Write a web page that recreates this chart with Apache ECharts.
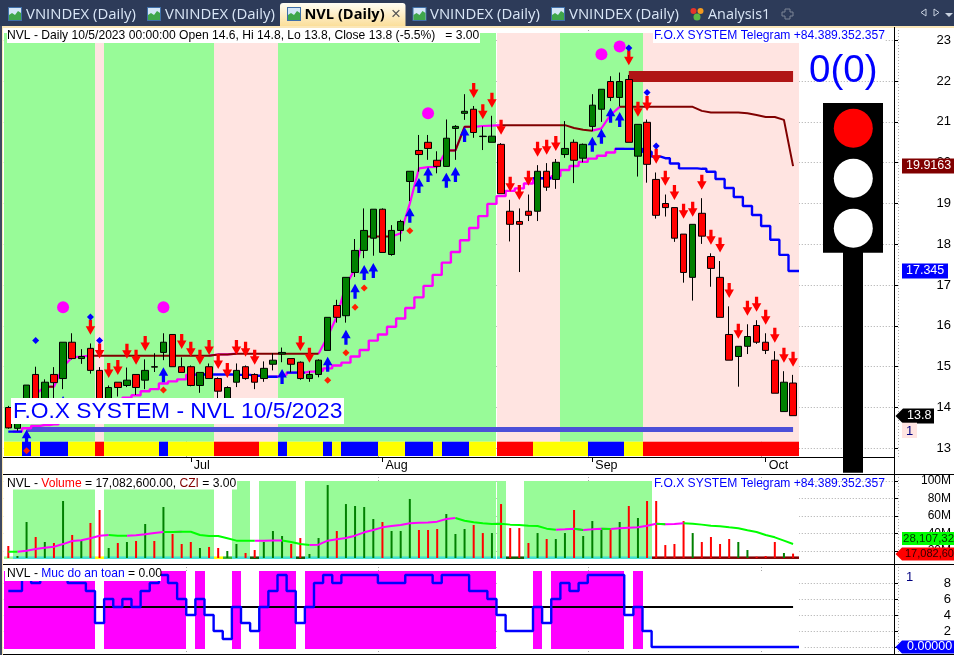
<!DOCTYPE html>
<html><head><meta charset="utf-8">
<style>html,body{margin:0;padding:0;background:#fff}#c{width:954px;height:655px}</style>
<script src="https://cdn.jsdelivr.net/npm/echarts@6/dist/echarts.min.js"></script>
</head><body><div id="c"></div>
<script>
// ---------- categories (trading days) ----------
const tradingDays = [
'6/5','6/6','6/7','6/8','6/9','6/12','6/13','6/14','6/15','6/16','6/19','6/20','6/21','6/22','6/23','6/26','6/27','6/28','6/29','6/30',
'7/3','7/4','7/5','7/6','7/7','7/10','7/11','7/12','7/13','7/14','7/17','7/18','7/19','7/20','7/21','7/24','7/25','7/26','7/27','7/28','7/31',
'8/1','8/2','8/3','8/4','8/7','8/8','8/9','8/10','8/11','8/14','8/15','8/16','8/17','8/18','8/21','8/22','8/23','8/24','8/25','8/28','8/29','8/30','8/31',
'9/5','9/6','9/7','9/8','9/11','9/12','9/13','9/14','9/15','9/18','9/19','9/20','9/21','9/22','9/25','9/26','9/27','9/28','9/29',
'10/2','10/3','10/4','10/5'];
const rightPadding = ['p1','p2','p3','p4','p5','p6','p7','p8','p9','p10','p11'];
const monthStarts = {'7/3':'Jul','8/1':'Aug','9/5':'Sep','10/2':'Oct'};

// ---------- price ----------
const open = [14.0,13.49,13.94,14.81,14.1,14.81,14.71,15.6,15.2,15.45,14.91,14.02,14.62,14.54,14.81,14.67,15.0,15.35,15.79,15.0,15.0,14.54,15.0,14.71,14.2,14.62,15.0,14.81,14.71,15.06,15.31,15.2,15.11,14.71,14.81,15.4,16.5,16.25,17.31,17.85,18.15,18.86,17.75,18.34,19.54,20.3,20.5,20.06,19.91,20.84,21.21,21.31,20.65,20.5,20.45,18.81,18.56,18.81,18.81,19.79,19.59,20.2,20.5,20.11,20.89,21.31,21.99,21.6,22.04,20.16,20.99,19.59,19.0,18.9,18.25,17.19,18.76,17.7,17.19,15.79,15.25,15.5,16.01,15.6,15.16,13.9,14.6];
const close = [13.5,13.9,14.55,14.06,14.62,14.61,15.6,15.2,15.25,14.91,13.86,14.49,14.49,14.67,14.49,14.91,14.99,15.6,15.0,14.86,14.54,14.86,14.71,14.4,14.49,14.91,14.71,14.62,14.96,15.16,15.35,15.06,14.71,14.81,15.16,16.21,16.21,17.19,17.85,18.34,18.86,17.8,18.34,18.56,19.79,20.2,20.35,19.91,20.6,20.89,21.26,20.74,20.64,20.65,19.24,18.49,18.49,18.71,19.79,19.4,20.01,20.35,20.06,20.45,21.41,21.8,21.6,21.99,20.5,20.94,19.96,18.71,18.9,18.15,17.31,18.49,18.2,17.41,16.21,15.16,15.5,15.74,15.6,15.4,14.35,14.62,13.8];
const low = [13.48,13.43,13.86,13.94,14.02,14.18,14.45,15.18,15.07,14.83,13.78,13.94,14.27,14.5,14.31,14.45,14.87,15.16,15.0,14.86,14.52,14.36,14.71,14.23,14.14,14.5,14.68,14.45,14.63,14.91,15.11,14.86,14.68,14.63,14.74,15.4,16.08,16.08,17.2,17.66,17.72,17.8,17.72,18.07,19.06,19.78,20.07,19.74,19.91,20.07,21.05,20.61,20.31,20.5,19.24,18.07,17.32,18.57,18.57,19.31,19.36,20.12,19.5,20.01,20.77,21.0,21.51,21.38,20.5,19.66,19.51,18.63,18.68,18.06,17.06,16.62,18.01,16.96,16.21,15.16,14.51,15.31,15.56,15.31,14.35,13.9,13.8];
const high = [14.04,13.98,14.55,15.0,14.69,14.99,15.6,15.82,15.43,15.57,14.99,14.54,14.62,14.98,14.81,15.18,15.33,15.82,15.79,15.23,15.03,14.86,15.08,14.74,14.52,15.08,15.03,14.84,15.13,15.33,15.47,15.2,15.13,14.89,15.18,16.21,16.64,17.19,18.13,18.88,18.86,18.88,18.47,18.6,19.79,20.68,20.68,20.28,21.06,20.92,21.68,21.39,20.89,21.15,20.48,19.09,18.88,19.22,19.94,19.99,20.09,21.02,20.57,20.47,21.68,21.8,22.12,22.21,22.15,20.94,21.06,19.76,19.22,18.9,18.25,18.49,19.13,17.78,17.59,16.48,15.5,16.04,16.14,15.82,15.38,14.89,14.8];

const upperLine = [13.7,13.8,14.0,14.33,14.51,14.51,15.0,15.23,15.25,15.27,15.27,15.27,15.27,15.27,15.27,15.27,15.27,15.27,15.27,15.27,15.27,15.27,15.27,15.3,15.3,15.32,15.32,15.32,15.32,15.32,15.32,15.32,15.32,15.32,15.32,15.74,16.23,17.0,17.4,18.19,18.19,18.19,18.19,18.27,19.0,19.86,19.89,19.9,20.3,20.3,20.88,20.88,20.9,20.91,20.92,20.92,20.92,20.92,20.92,20.92,20.92,20.92,20.85,20.81,20.785,20.84,21.17,21.37,21.37,21.37,21.37,21.37,21.37,21.37,21.37,21.37,21.27,21.23,21.23,21.23,21.23,21.21,21.17,21.12,21.12,21.05,19.9163];
const lowerLine = [13.41,13.41,13.49,13.55,13.57,13.59,13.69,13.775,13.84,13.9,13.98,14.06,14.14,14.24,14.3,14.4,14.45,14.59,14.64,14.69,14.8,14.81,14.81,14.81,14.81,14.8,14.8,14.78,14.755,14.755,14.8,14.855,14.855,14.88,14.9,14.96,15.03,15.1,15.25,15.41,15.64,15.79,15.98,16.18,16.44,16.7,16.98,17.25,17.55,17.81,18.1,18.4,18.69,18.99,19.18,19.31,19.37,19.49,19.62,19.62,19.67,19.82,19.92,20.02,20.1,20.17,20.25,20.34,20.34,20.34,20.27,20.15,20.11,19.98,19.86,19.86,19.85,19.78,19.6,19.38,19.16,18.94,18.72,18.45,18.11,17.74,17.345];
const resistanceLevel = 22.11;
const supportLevel = 13.47;

const downArrows = [[9,15.97],[10,15.385],[11,14.91],[12,14.98],[13,15.38],[14,15.23],[15,15.57],[19,15.62],[20,15.43],[21,15.23],[22,15.47],[23,15.13],[24,14.91],[25,15.47],[26,15.43],[27,15.23],[32,15.57],[33,15.28],[51,21.77],[52,21.25],[53,21.53],[54,20.87],[55,19.47],[56,19.27],[57,19.62],[58,20.33],[59,20.38],[60,20.47],[68,22.57],[69,21.31],[70,21.45],[71,20.16],[72,19.62],[73,19.27],[74,18.81],[75,18.86],[76,19.52],[77,18.17],[78,17.98],[79,16.87],[80,15.87],[81,16.43],[82,16.53],[83,16.21],[84,15.77],[85,15.28],[86,15.18]];
const upArrows = [[2,13.27],[6,14.1],[17,14.8],[30,14.76],[35,15.06],[37,15.72],[38,16.85],[39,17.31],[40,17.36],[44,18.71],[45,19.44],[46,19.71],[48,19.57],[49,19.71],[50,20.69],[64,20.45],[65,20.65],[66,21.16],[67,21.06]];
const blueDiamonds = [[3,15.64],[9,16.22],[10,15.64],[68,22.81],[70,21.72],[71,20.41]];
const redDiamonds = [[2,12.94],[17,14.43],[35,14.67],[37,15.34],[38,16.46],[39,16.93],[44,18.33]];
const magentaDots = [[6,16.455],[17,16.455],[46,21.21],[65,22.66],[67,22.85]];

// ---------- volume (millions) ----------
const volume = [25.8,14.4,53.2,36.1,30.4,29.2,77.2,38.4,32.6,52.1,66.9,23.5,29.2,30.4,31.5,50.9,31.5,70.3,39.5,28.1,30.4,23.5,24.7,23.5,20.1,28.1,17.8,21.2,30.4,42.9,37.2,28.1,34.9,16.7,34.9,95.4,42.9,73.7,71.5,70.3,56.6,53.2,42.9,42.9,79.5,44.1,44.1,45.2,62.3,39.5,45.2,49.8,40.6,40.6,73.7,46.3,46.3,29.2,40.6,33.8,33.8,40.6,66.9,37.2,54.3,46.3,44.1,53.2,71.5,57.8,77.2,77.2,26.9,28.1,54.3,40.6,30.4,36.1,28.1,33.8,30.4,21.2,13.6,14.4,30.4,17.8,17.08];
const volumeAvg = [19.3,19.3,20.5,22.4,23.9,25,28,31.5,32.3,34.6,37.6,38.4,37.6,37.6,38,39.1,40.6,41.8,41.7,42.2,42.1,38.4,37.2,37.2,34.6,31.9,31.8,31.8,31.9,32,32.1,30.4,28,26.9,27.3,31.9,33.4,34.9,37.6,41.4,44.1,47.1,48.6,49.8,51.7,52.4,52.5,53.6,56.6,57.8,54.7,52.8,51.7,50.9,51.3,50.2,49.8,49,48.6,45.6,44.4,44.8,45.6,44.1,44.8,45.6,45.2,46,46.7,47.1,49,51.3,50.5,50.9,51.7,51.3,50.2,49,48.3,47.1,46,43.7,41.8,38.4,35.7,31.9,28.1];

// ---------- Muc do an toan ----------
const safety = [7,7,9,8,9,9,9,8,8,7,3,6,5,6,5,7,8,9,8,6,4,6,4,2,1,5,3,2,5,7,9,7,3,5,8,9,8,9,9,9,9,8,8,8,9,9,9,8,9,9,9,7,7,6,4,2,2,2,5,3,6,8,7,8,9,9,9,9,4,5,2,0,0,0,0,0,0,0,0,0,0,0,0,0,0,0,0];
const safetyThreshold = 5;

// ---------- background state runs ----------
const mainBandRuns = [['g',10],['p',1],['g',12],['p',7],['g',24],['p',7],['g',9],['p',17]];
const stripRuns = [['y',2],['b',1],['y',1],['b',3],['y',3],['r',1],['y',6],['b',1],['y',5],['r',5],['y',2],['b',1],['y',4],['b',1],['y',1],['b',4],['y',3],['b',3],['y',1],['b',3],['y',3],['r',4],['y',6],['b',4],['y',2],['r',17]];
const volBandRuns = [['w',1],['g',9],['w',1],['g',12],['w',2],['g',2],['w',1],['g',4],['w',1],['g',22],['w',2],['g',14],['w',16]];
const volStripRuns = [['g',1],['c',9],['y',1],['c',12],['y',1],['m',1],['c',2],['k',1],['c',4],['k',1],['c',22],['k',2],['c',14],['d',16]];
const safeBandRuns = [['f',10],['w',1],['f',9],['w',1],['f',1],['w',3],['f',1],['w',2],['f',4],['w',1],['f',21],['w',4],['f',1],['w',1],['f',8],['w',1],['f',1],['w',17]];

// ---------- axis ticks ----------
const priceTicks = [13,14,15,16,17,18,19,20,21,22,23];
const volumeTicks = [20,40,60,80,100];
const safetyTicks = [0,2,4,6,8];

const PALETTE = {g:'#98FB98',p:'#FFE4E1',w:'#FFFFFF',y:'#FFFF00',b:'#0000FF',r:'#FF0000',c:'#40E0D0',m:'#32B432',k:'#0B5A0B',d:'#800000',f:'#FF00FF'};
const FONT = '"Liberation Sans", Arial, sans-serif';
const UI = '"Open Sans", "Noto Sans", sans-serif';

function expand(runs){const o=[];runs.forEach(r=>{for(let k=0;k<r[1];k++)o.push(r[0]);});return o;}
function part(a,up){const o=a.map(()=>null);for(let i=1;i<a.length;i++){if((a[i]>a[i-1])===up){o[i-1]=a[i-1];o[i]=a[i];}}return o;}

// A row of per-bar coloured cells, between two values of its own y axis
function cellSeries(gridIdx, runs, topV, botV, z, name){
  const states = expand(runs);
  return {type:'custom',name,xAxisIndex:gridIdx,yAxisIndex:gridIdx,z,silent:true,clip:false,animation:false,
    data:states.map((s,i)=>[i,topV,botV]),
    encode:{x:0,y:[1,2]},
    renderItem(p,api){
      const i=api.value(0),c=api.coord([i,api.value(1)]),d=api.coord([i,api.value(2)]),w=api.size([1,0])[0];
      const x0=Math.round(c[0]-w/2), x1=Math.round(c[0]+w/2)+(i===states.length-1?1:0);
      return {type:'rect',shape:{x:x0,y:c[1],width:x1-x0,height:d[1]-c[1]},style:{fill:PALETTE[states[i]]}};
    }};
}
function tagSeries(gridIdx, tags){
  return {type:'custom',xAxisIndex:gridIdx,yAxisIndex:gridIdx,z:60,silent:true,clip:false,animation:false,
    data:tags.map(t=>[0,t.v]),encode:{x:0,y:1},
    renderItem(p,api){
      const t=tags[p.dataIndex],y=Math.round(api.coord([0,t.v])[1])+(t.shift||0),h=t.h||7.5;
      const pts=t.arrow?[[895.5,y],[t.x,y-h],[t.r,y-h],[t.r,y+h],[t.x,y+h]]:[[t.x,y-h],[t.r,y-h],[t.r,y+h],[t.x,y+h]];
      return {type:'group',children:[
        {type:'polygon',shape:{points:pts},style:{fill:t.bg}},
        {type:'text',style:{x:t.tx,y,text:t.text,fill:t.fg,font:(t.fs||12.5)+'px '+FONT,textAlign:'left',textVerticalAlign:'middle'}}
      ]};
    }};
}
function scatterMarks(name,data,symbol,size,color){
  return {type:'scatter',name,xAxisIndex:0,yAxisIndex:0,z:5,silent:true,animation:false,data,symbol,symbolSize:size,itemStyle:{color,opacity:1}};
}
const UP_ARROW='path://M0,-7.5 L7,1 L2.4,1 L2.4,7.5 L-2.4,7.5 L-2.4,1 L-7,1 Z';
const DOWN_ARROW='path://M0,7.5 L7,-1 L2.4,-1 L2.4,-7.5 L-2.4,-7.5 L-2.4,-1 L-7,-1 Z';

const categories = tradingDays.concat(rightPadding);
const candle = open.map((o,i)=>[o,close[i],low[i],high[i]]);
const isMonthStart = (i)=>!!monthStarts[categories[i]];
const dotted = {show:true,interval:(i)=>isMonthStart(i),lineStyle:{color:'#A8A8A8',type:[1,2],width:1}};

function xAxisFor(g,withLabels){
  return {type:'category',gridIndex:g,data:categories,boundaryGap:true,
    axisLine:{show:false},
    axisTick:{show:withLabels,alignWithLabel:true,length:5,interval:(i)=>isMonthStart(i),lineStyle:{color:'#000',width:1}},
    axisLabel:{show:withLabels,interval:(i)=>isMonthStart(i),formatter:(v)=>monthStarts[v]||'',align:'left',margin:2,padding:[0,0,0,3],color:'#000',fontFamily:FONT,fontSize:12.5,hideOverlap:false},
    splitLine:dotted};
}
function yAxisFor(g,min,max,ticks,fmt,fontSize){
  return {type:'value',gridIndex:g,position:'right',offset:-4,min,max,scale:true,
    axisLine:{show:false},
    axisTick:{show:true,length:4,inside:false,customValues:ticks,lineStyle:{color:'#000',width:1}},
    axisLabel:{show:true,customValues:ticks,formatter:fmt,margin:57,align:'right',color:'#000',fontFamily:FONT,fontSize},
    splitLine:{show:true,lineStyle:{color:'#A8A8A8',type:[1,2],width:1}}};
}

// ---------- chrome ----------
const g=[];
function rect(x,y,w,h,fill,r){g.push({type:'rect',z:100,silent:true,shape:{x,y,width:w,height:h,r:r||0},style:{fill}});}
function txt(x,y,text,fill,font,align){g.push({type:'text',z:101,silent:true,style:{x,y,text,fill,font,textAlign:align||'left',textVerticalAlign:'middle'}});}
function circle(cx,cy,r,fill){g.push({type:'circle',z:101,silent:true,shape:{cx,cy,r},style:{fill}});}
function icon(x){
  rect(x,7,14,14,'#3F6FA8');rect(x+1,8,12,12,'#D5E6F7');
  g.push({type:'polygon',z:101,silent:true,shape:{points:[[x+1,20],[x+1,15],[x+4,13],[x+7,15],[x+10,11],[x+13,13],[x+13,20]]},style:{fill:'#3FA64A'}});
}
// tab strip
rect(0,0,954,26,'#2D3B59');
rect(280,3,125.5,24,new echarts.graphic.LinearGradient(0,0,0,1,[{offset:0,color:'#FFFDF4'},{offset:1,color:'#FBDD96'}]),[3,3,0,0]);
rect(0,26,954,2,'#FBE7B8');
rect(0,26,2,629,'#3E4860');
rect(2,26,1,629,'#FBE7B8');
const TAB='14.9px '+UI, TABC='#D9E6F6';
icon(8);txt(26,14.5,'VNINDEX (Daily)',TABC,TAB);
icon(147);txt(165,14.5,'VNINDEX (Daily)',TABC,TAB);
icon(287);txt(304.5,14.5,'NVL (Daily)','#000','bold 14.6px '+UI);
txt(391,14,'×','#555','17px '+FONT);
icon(412.5);txt(430,14.5,'VNINDEX (Daily)',TABC,TAB);
icon(551);txt(569,14.5,'VNINDEX (Daily)',TABC,TAB);
circle(693.5,11,3,'#E5342B');circle(700.5,11,3,'#F39A1E');circle(697,17,3.5,'#5CB845');
txt(708,14.5,'Analysis1',TABC,'14.4px '+UI);
// add-tab glyph and scroll buttons
g.push({type:'polygon',z:101,silent:true,shape:{points:[[785,9],[790,9],[790,12],[793,12],[793,16],[790,16],[790,19],[785,19],[785,16],[782,16],[782,12],[785,12]]},style:{fill:'none',stroke:'#7C8596',lineWidth:1}});
g.push({type:'polygon',z:101,silent:true,shape:{points:[[926,9],[926,16],[921,12.5]]},style:{fill:'none',stroke:'#C9D2E0',lineWidth:1}});
g.push({type:'polygon',z:101,silent:true,shape:{points:[[934,9],[934,16],[939,12.5]]},style:{fill:'none',stroke:'#C9D2E0',lineWidth:1}});
g.push({type:'polygon',z:101,silent:true,shape:{points:[[945,13],[953,13],[949,17]]},style:{fill:'#C9D2E0'}});
// pane borders
rect(3,457,891,1,'#000');rect(3,474,951,1,'#000');rect(3,564,951,1,'#000');rect(3,654,951,1,'#000');rect(894,27,1,628,'#000');
// trim the step lines at the plot edge
rect(799,266,4,10,'#fff');rect(799,644,4,6,'#fff');
// header labels
const LBL='12.1px '+FONT;
rect(7,29,473,14,'#fff');
txt(7,36,'NVL - Daily 10/5/2023 00:00:00 Open 14.6, Hi 14.8, Lo 13.8, Close 13.8 (-5.5%)   = 3.00','#000',LBL);
rect(653,29,232,14,'#fff');
txt(654,36,'F.O.X SYSTEM Telegram +84.389.352.357','#0000FF',LBL);
txt(654,483.5,'F.O.X SYSTEM Telegram +84.389.352.357','#0000FF',LBL);
rect(5,476,232,13.5,'#fff');
g.push({type:'text',z:101,silent:true,style:{x:7,y:483.5,text:'{k|NVL - }{r|Volume}{k| = 17,082,600.00, }{d|CZI}{k| = 3.00}',font:LBL,textVerticalAlign:'middle',
  rich:{k:{fill:'#000',font:LBL},r:{fill:'#FF0000',font:LBL},d:{fill:'#800000',font:LBL}}}});
rect(5,566,156,15,'#fff');
g.push({type:'text',z:101,silent:true,style:{x:7,y:574,text:'{k|NVL - }{b|Muc do an toan}{k| = 0.00}',font:LBL,textVerticalAlign:'middle',
  rich:{k:{fill:'#000',font:LBL},b:{fill:'#0000FF',font:LBL}}}});
// big overlay title
rect(11,398,333,26,'#fff');
txt(13,411.5,'F.O.X SYSTEM - NVL 10/5/2023','#0000FF','22.8px '+FONT);
// signal panel
txt(809,71,'0(0)','#0000FF','38.5px '+FONT);
rect(843,240,20,232.7,'#000');
rect(823,103,60,149.7,'#000');
circle(853.3,128.3,19.5,'#FF0000');circle(853.3,178.3,19.5,'#FFFFFF');circle(853.3,228.3,19.5,'#FFFFFF');
// right side small notes
rect(902,422.7,15,15.3,'#FFE4E1');
txt(906,431,'1','#000080','13px '+FONT);
txt(906,577.5,'1','#000080','13px '+FONT);

const priceTags=[
  {v:19.9163,text:'19.9163',bg:'#800000',fg:'#fff',x:902,r:954,tx:906},
  {v:17.345,text:'17.345',bg:'#0000FF',fg:'#fff',x:902,r:948,tx:906},
  {v:13.8,text:'13.8',bg:'#000',fg:'#fff',x:903,r:934,tx:907,arrow:true}];
const volTags=[
  {v:28.107,text:'28,107,32',bg:'#00FF00',fg:'#003300',x:902,r:954,tx:903,h:6.5,shift:-5.5,fs:11.5},
  {v:17.08,text:'17,082,60',bg:'#FF0000',fg:'#300000',x:902,r:954,tx:905,arrow:true,h:6.5,fs:11}];
const safeTags=[
  {v:0,text:'0.00000',bg:'#0000FF',fg:'#fff',x:902,r:954,tx:907,arrow:true,h:6.5}];

const chart=echarts.init(document.getElementById('c'),null,{renderer:'canvas'});
chart.setOption({
  animation:false,
  backgroundColor:'#fff',
  textStyle:{fontFamily:FONT},
  grid:[
    {left:3.75,top:27,width:894.25,height:430},
    {left:3.75,top:474,width:894.25,height:84},
    {left:3.75,top:564,width:894.25,height:90}
  ],
  xAxis:[xAxisFor(0,true),xAxisFor(1,false),xAxisFor(2,false)],
  yAxis:[
    yAxisFor(0,12.787,23.326,priceTicks,(v)=>String(v),13),
    yAxisFor(1,12.1,108,volumeTicks,(v)=>v+'M',12),
    yAxisFor(2,-0.875,10.375,safetyTicks,(v)=>String(v),13)
  ],
  series:[
    cellSeries(0,mainBandRuns,23.18,13.16,1,'trend background'),
    cellSeries(0,stripRuns,13.162,12.81,1.5,'signal strip'),
    {type:'line',name:'lower rising',xAxisIndex:0,yAxisIndex:0,z:2,step:'middle',data:part(lowerLine,true),showSymbol:false,connectNulls:false,lineStyle:{color:'#FF00FF',width:2.4}},
    {type:'line',name:'lower falling',xAxisIndex:0,yAxisIndex:0,z:2,step:'middle',data:part(lowerLine,false).concat([lowerLine[86]]),showSymbol:false,connectNulls:false,lineStyle:{color:'#0000FF',width:2.4}},
    {type:'line',name:'upper rising',xAxisIndex:0,yAxisIndex:0,z:2,data:part(upperLine,true),showSymbol:false,connectNulls:false,lineStyle:{color:'#FF00FF',width:2.2}},
    {type:'line',name:'upper falling',xAxisIndex:0,yAxisIndex:0,z:2,data:part(upperLine,false),showSymbol:false,connectNulls:false,lineStyle:{color:'#800000',width:2},
      markLine:{silent:true,z:2,symbol:'none',label:{show:false},animation:false,data:[
        [{coord:[68,resistanceLevel],lineStyle:{color:'#B01515',width:11,type:'solid'}},{coord:[86,resistanceLevel]}],
        [{coord:[2,supportLevel],lineStyle:{color:'#4C50D8',width:5,type:'solid'}},{coord:[86,supportLevel]}]
      ]}},
    {type:'candlestick',name:'NVL',xAxisIndex:0,yAxisIndex:0,z:3,data:candle,barWidth:7,silent:true,
      itemStyle:{color:'#008000',color0:'#FF0000',borderColor:'#000',borderColor0:'#000',borderColorDoji:'#000',borderWidth:1}},
    scatterMarks('sell',downArrows,DOWN_ARROW,[9.5,15],'#FF0000'),
    scatterMarks('buy',upArrows,UP_ARROW,[9.5,15],'#0000FF'),
    scatterMarks('blue marks',blueDiamonds,'diamond',7,'#0000FF'),
    scatterMarks('red marks',redDiamonds,'diamond',7,'#FF2000'),
    scatterMarks('magenta marks',magentaDots,'circle',12,'#FF00FF'),
    tagSeries(0,priceTags),

    cellSeries(1,volBandRuns,100,12.1,1,'volume background'),
    {type:'bar',name:'Volume',xAxisIndex:1,yAxisIndex:1,z:2,barWidth:2,silent:true,animation:false,
      data:volume.map((v,i)=>({value:v,itemStyle:{color:close[i]>open[i]?'#008000':'#FF0000'}}))},
    cellSeries(1,volStripRuns,13.9,11.0,1.5,'volume strip'),
    {type:'line',name:'CZI rising',xAxisIndex:1,yAxisIndex:1,z:3,data:part(volumeAvg,true),showSymbol:false,lineStyle:{color:'#FF00FF',width:2}},
    {type:'line',name:'CZI falling',xAxisIndex:1,yAxisIndex:1,z:3,data:part(volumeAvg,false),showSymbol:false,lineStyle:{color:'#00FF00',width:2}},
    tagSeries(1,volTags),

    cellSeries(2,safeBandRuns,9.5,-0.25,1,'safety background'),
    {type:'line',name:'Muc do an toan',xAxisIndex:2,yAxisIndex:2,z:3,step:'middle',data:safety.concat([safety[86]]),showSymbol:false,lineStyle:{color:'#0000FF',width:2.4},
      markLine:{silent:true,z:2,symbol:'none',label:{show:false},animation:false,lineStyle:{color:'#000',width:2,type:'solid'},data:[[{coord:[0,safetyThreshold]},{coord:[86,safetyThreshold]}]]}},
    tagSeries(2,safeTags)
  ],
  graphic:{elements:g}
});
</script></body></html>
